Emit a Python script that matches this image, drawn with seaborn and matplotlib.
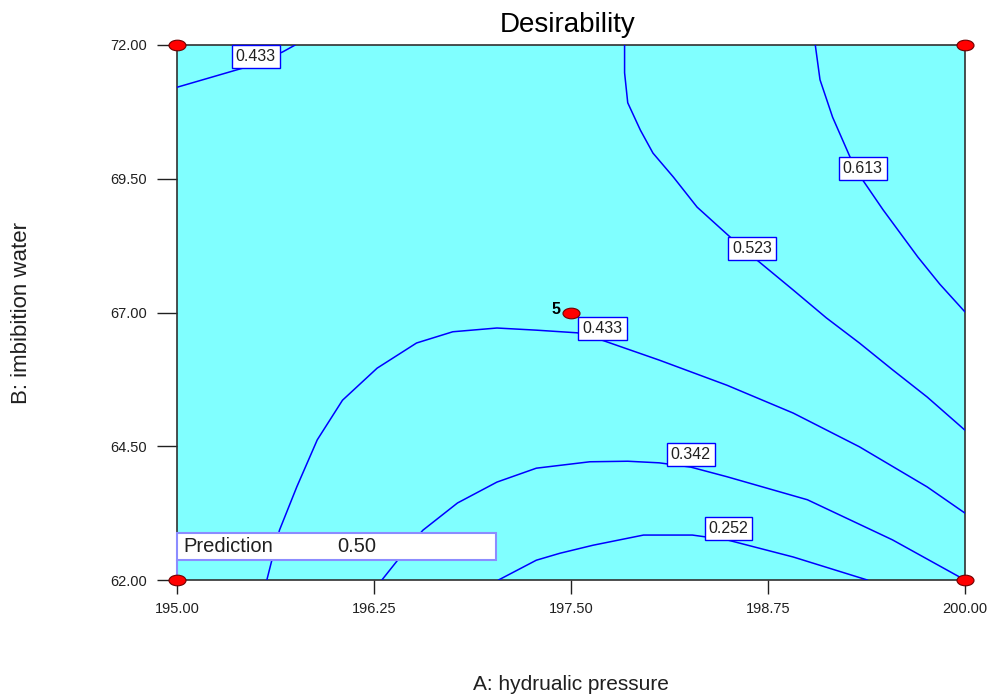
import numpy as np
import pandas as pd
import matplotlib
matplotlib.use("Agg")
import matplotlib.pyplot as plt
import seaborn as sns
from matplotlib.path import Path
from matplotlib.transforms import Affine2D
from matplotlib.patches import Rectangle

# ---------------- data ----------------
# contour 0.433 (upper-left corner piece)
c433a_A = [195.00, 195.21, 195.42, 195.67, 195.75]
c433a_B = [71.21, 71.39, 71.57, 71.87, 72.00]
# contour 0.433 (main arc)
c433b_A = [195.57, 195.65, 195.76, 195.89, 196.05, 196.27, 196.52, 196.75, 197.03,
           197.28, 197.54, 197.68, 198.06, 198.49, 198.91, 199.33, 199.76, 200.00]
c433b_B = [62.00, 62.93, 63.74, 64.62, 65.36, 65.96, 66.43, 66.64, 66.71,
           66.67, 66.62, 66.50, 66.11, 65.64, 65.12, 64.49, 63.74, 63.25]
# contour 0.523
c523_A = [197.84, 197.84, 197.86, 197.94, 198.02, 198.15, 198.30, 198.51, 198.68,
          198.91, 199.12, 199.33, 199.54, 199.76, 200.00]
c523_B = [72.00, 71.48, 70.92, 70.41, 69.98, 69.53, 68.97, 68.41, 67.98,
          67.42, 66.90, 66.43, 65.93, 65.42, 64.80]
# contour 0.613
c613_A = [199.05, 199.08, 199.16, 199.27, 199.35, 199.48, 199.70, 199.84, 200.00]
c613_B = [72.00, 71.35, 70.65, 69.91, 69.48, 68.92, 68.04, 67.53, 67.01]
# contour 0.342
c342_A = [196.30, 196.40, 196.56, 196.78, 197.03, 197.28, 197.62, 197.86, 198.06,
          198.26, 198.49, 199.00, 199.54, 200.00]
c342_B = [62.00, 62.37, 62.93, 63.44, 63.83, 64.09, 64.21, 64.22, 64.19,
          64.11, 63.93, 63.50, 62.75, 62.00]
# contour 0.252
c252_A = [197.04, 197.28, 197.43, 197.64, 197.96, 198.27, 198.49, 198.91, 199.38]
c252_B = [62.00, 62.37, 62.50, 62.65, 62.84, 62.84, 62.75, 62.43, 62.00]

# contour labels
lab_text = ["0.433", "0.613", "0.523", "0.433", "0.342", "0.252"]
lab_A = [195.50, 199.35, 198.65, 197.70, 198.26, 198.50]
lab_B = [71.78, 69.70, 68.19, 66.71, 64.34, 62.97]

# design points
pt_A = [195.0, 195.0, 200.0, 200.0, 197.5]
pt_B = [62.0, 72.0, 62.0, 72.0, 67.0]
center_count = "5"

x_ticks = [195.00, 196.25, 197.50, 198.75, 200.00]
y_ticks = [62.00, 64.50, 67.00, 69.50, 72.00]

title = "Desirability"
x_label = "A: hydrualic pressure"
y_label = "B: imbibition water"
pred_label = "Prediction"
pred_value = "0.50"

# ---------------- build long table ----------------
curves = [("0.433a", c433a_A, c433a_B), ("0.433b", c433b_A, c433b_B),
          ("0.523", c523_A, c523_B), ("0.613", c613_A, c613_B),
          ("0.342", c342_A, c342_B), ("0.252", c252_A, c252_B)]
rows = []
for name, xa, yb in curves:
    for i, (a, b) in enumerate(zip(xa, yb)):
        rows.append({"curve": name, "order": i, "A": a, "B": b})
df = pd.DataFrame(rows)

# ---------------- figure ----------------
sns.set_theme(style="white")
plt.rcParams["font.family"] = ["Liberation Sans", "DejaVu Sans"]

fig = plt.figure(figsize=(9.92, 6.96), dpi=100)
ax = fig.add_axes([177 / 992, 1 - 580 / 696, 788 / 992, 535 / 696])
ax.set_facecolor("#80ffff")

sns.lineplot(data=df, x="A", y="B", units="curve", estimator=None, sort=False,
             color="#0000ff", linewidth=1.1, ax=ax, zorder=3)

for t, a, b in zip(lab_text, lab_A, lab_B):
    ax.text(a, b, t, ha="center", va="center", fontsize=11.5, color="#202020",
            zorder=4,
            bbox=dict(boxstyle="square,pad=0.25", fc="white", ec="#0000ff", lw=1.0))

# ellipse marker for design points
ell = Path.unit_circle().transformed(Affine2D().scale(1.6, 1.0))
sns.scatterplot(x=pt_A, y=pt_B, marker=ell, s=150, color="#ff0000",
                edgecolor="#700000", linewidth=0.8, ax=ax, zorder=7, clip_on=False)
ax.annotate(center_count, (pt_A[4], pt_B[4]), xytext=(-11, 2), textcoords="offset points",
            ha="center", va="center", fontsize=11.5, fontweight="bold", color="black",
            zorder=7)

# prediction box
ax.add_patch(Rectangle((0.0, 0.037), 0.405, 0.051, transform=ax.transAxes,
                       fc="white", ec="#8c8cff", lw=1.5, zorder=5, clip_on=False))
ax.plot([0, 0], [0, 0.037], transform=ax.transAxes, color="#8c8cff", lw=1.5,
        zorder=5, clip_on=False)
ax.text(0.008, 0.0625, pred_label, transform=ax.transAxes, ha="left", va="center",
        fontsize=14.5, color="#202020", zorder=6)
ax.text(0.203, 0.0625, pred_value, transform=ax.transAxes, ha="left", va="center",
        fontsize=14.5, color="#202020", zorder=6)

# axes styling
ax.set_xlim(195, 200)
ax.set_ylim(62, 72)
ax.set_xticks(x_ticks)
ax.set_xticklabels([f"{v:.2f}" for v in x_ticks])
ax.set_yticks(y_ticks)
ax.set_yticklabels([f"{v:.2f}" for v in y_ticks])
ax.tick_params(axis="x", bottom=True, direction="out", length=10, width=1.0, pad=6,
               labelsize=10.5, colors="#202020")
ax.tick_params(axis="y", left=True, direction="out", length=14.4, width=1.0, pad=7,
               labelsize=10.5, colors="#202020")
for sp in ax.spines.values():
    sp.set_color("#303030")
    sp.set_linewidth(1.2)

ax.set_xlabel(x_label, fontsize=15, color="#202020")
ax.xaxis.label.set_va("center")
ax.xaxis.set_label_coords(0.5, (580 - 684) / 535)
ax.set_ylabel(y_label, fontsize=16, color="#202020")
ax.yaxis.label.set_va("center")
ax.yaxis.set_label_coords((22 - 177) / 788, 0.5)

fig.text(568 / 992, 1 - 25 / 696, title, ha="center", va="center", fontsize=20,
         color="black")

fig.savefig("out.png", dpi=100)
